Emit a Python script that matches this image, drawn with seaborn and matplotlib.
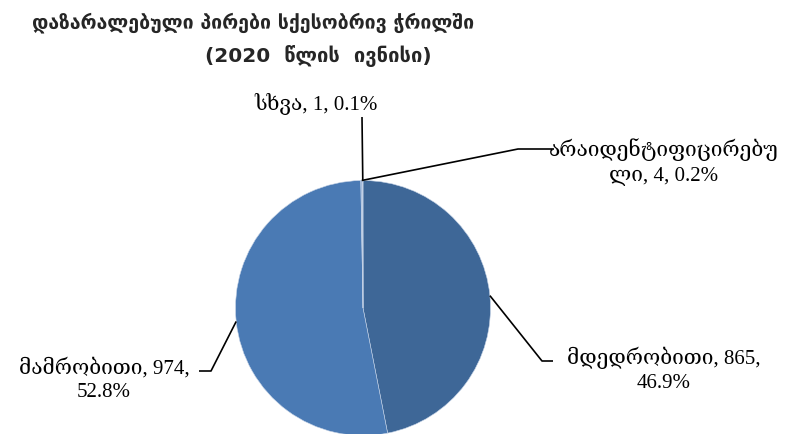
import numpy as np
import matplotlib
matplotlib.use("Agg")
import matplotlib.pyplot as plt
import seaborn as sns

# Data
categories = ["მდედრობითი", "მამრობითი", "არაიდენტიფიცირებული", "სხვა"]
counts = [865, 974, 4, 1]
percents = [46.9, 52.8, 0.2, 0.1]
colors = ["#3E6797", "#4A7AB4", "#9DB6D9", "#B5C7E2"]

title_line1 = "დაზარალებული პირები სქესობრივ ჭრილში"
title_line2 = "(2020  წლის  ივნისი)"

sns.set_theme(style="white")
plt.rcParams["font.family"] = ["Liberation Serif", "DejaVu Serif"]

W, H = 806, 435
CX, CY, R = 363, 309, 127.5  # pie centre / radius in pixels


def px(x, y):
    """pixel position (from top-left) -> data coords of the pie axes"""
    return (x - CX) / R, (CY - y) / R


fig = plt.figure(figsize=(W / 100, H / 100), dpi=100)
ax = fig.add_axes([0, 0, 1, 1])
wedges, _ = ax.pie(counts, colors=colors, startangle=90, counterclock=False,
                   radius=1, center=(0, 0),
                   wedgeprops=dict(edgecolor="#C4D2E6", linewidth=0.4))
ax.set_xlim(-CX / R, (W - CX) / R)
ax.set_ylim(-(H - CY) / R, CY / R)
ax.set_aspect("equal")
ax.axis("off")


def edge_point(w):
    ang = np.deg2rad((w.theta1 + w.theta2) / 2)
    return np.cos(ang), np.sin(ang)


label_texts = [f"{c}, {n}, {p:.1f}%" for c, n, p in zip(categories, counts, percents)]
label_texts[0] = f"{categories[0]}, {counts[0]},\n{percents[0]:.1f}%"
label_texts[1] = f"{categories[1]}, {counts[1]},\n{percents[1]:.1f}%"
label_texts[2] = "არაიდენტიფიცირებუ\nლი, %d, %.1f%%" % (counts[2], percents[2])

# text centre, elbow and line end (pixels)
layout = [
    ((664, 370), (542, 362), (553, 362)),
    ((104, 380), (211, 372), (199, 372)),
    ((664, 162), (518, 150), (554, 150)),
    ((316, 104), (362, 118), (362, 118)),
]

fs = 15
for w, txt, (tpos, elbow, end) in zip(wedges, label_texts, layout):
    x0, y0 = edge_point(w)
    ex, ey = px(*elbow)
    lx, ly = px(*end)
    ax.plot([x0, ex, lx], [y0, ey, ly], color="black", lw=1.2,
            solid_capstyle="butt", clip_on=False)
    tx, ty = px(*tpos)
    ax.text(tx, ty, txt, ha="center", va="center", multialignment="center",
            fontsize=fs, linespacing=1.35, color="black")

title_font = ["DejaVu Sans"]
fig.text(253 / W, 1 - 23 / H, title_line1, ha="center", va="center",
         fontsize=14, fontweight="bold", family=title_font)
fig.text(318 / W, 1 - 56 / H, title_line2, ha="center", va="center",
         fontsize=14.5, fontweight="bold", family=title_font)

fig.savefig("out.png", dpi=100, facecolor="white")
